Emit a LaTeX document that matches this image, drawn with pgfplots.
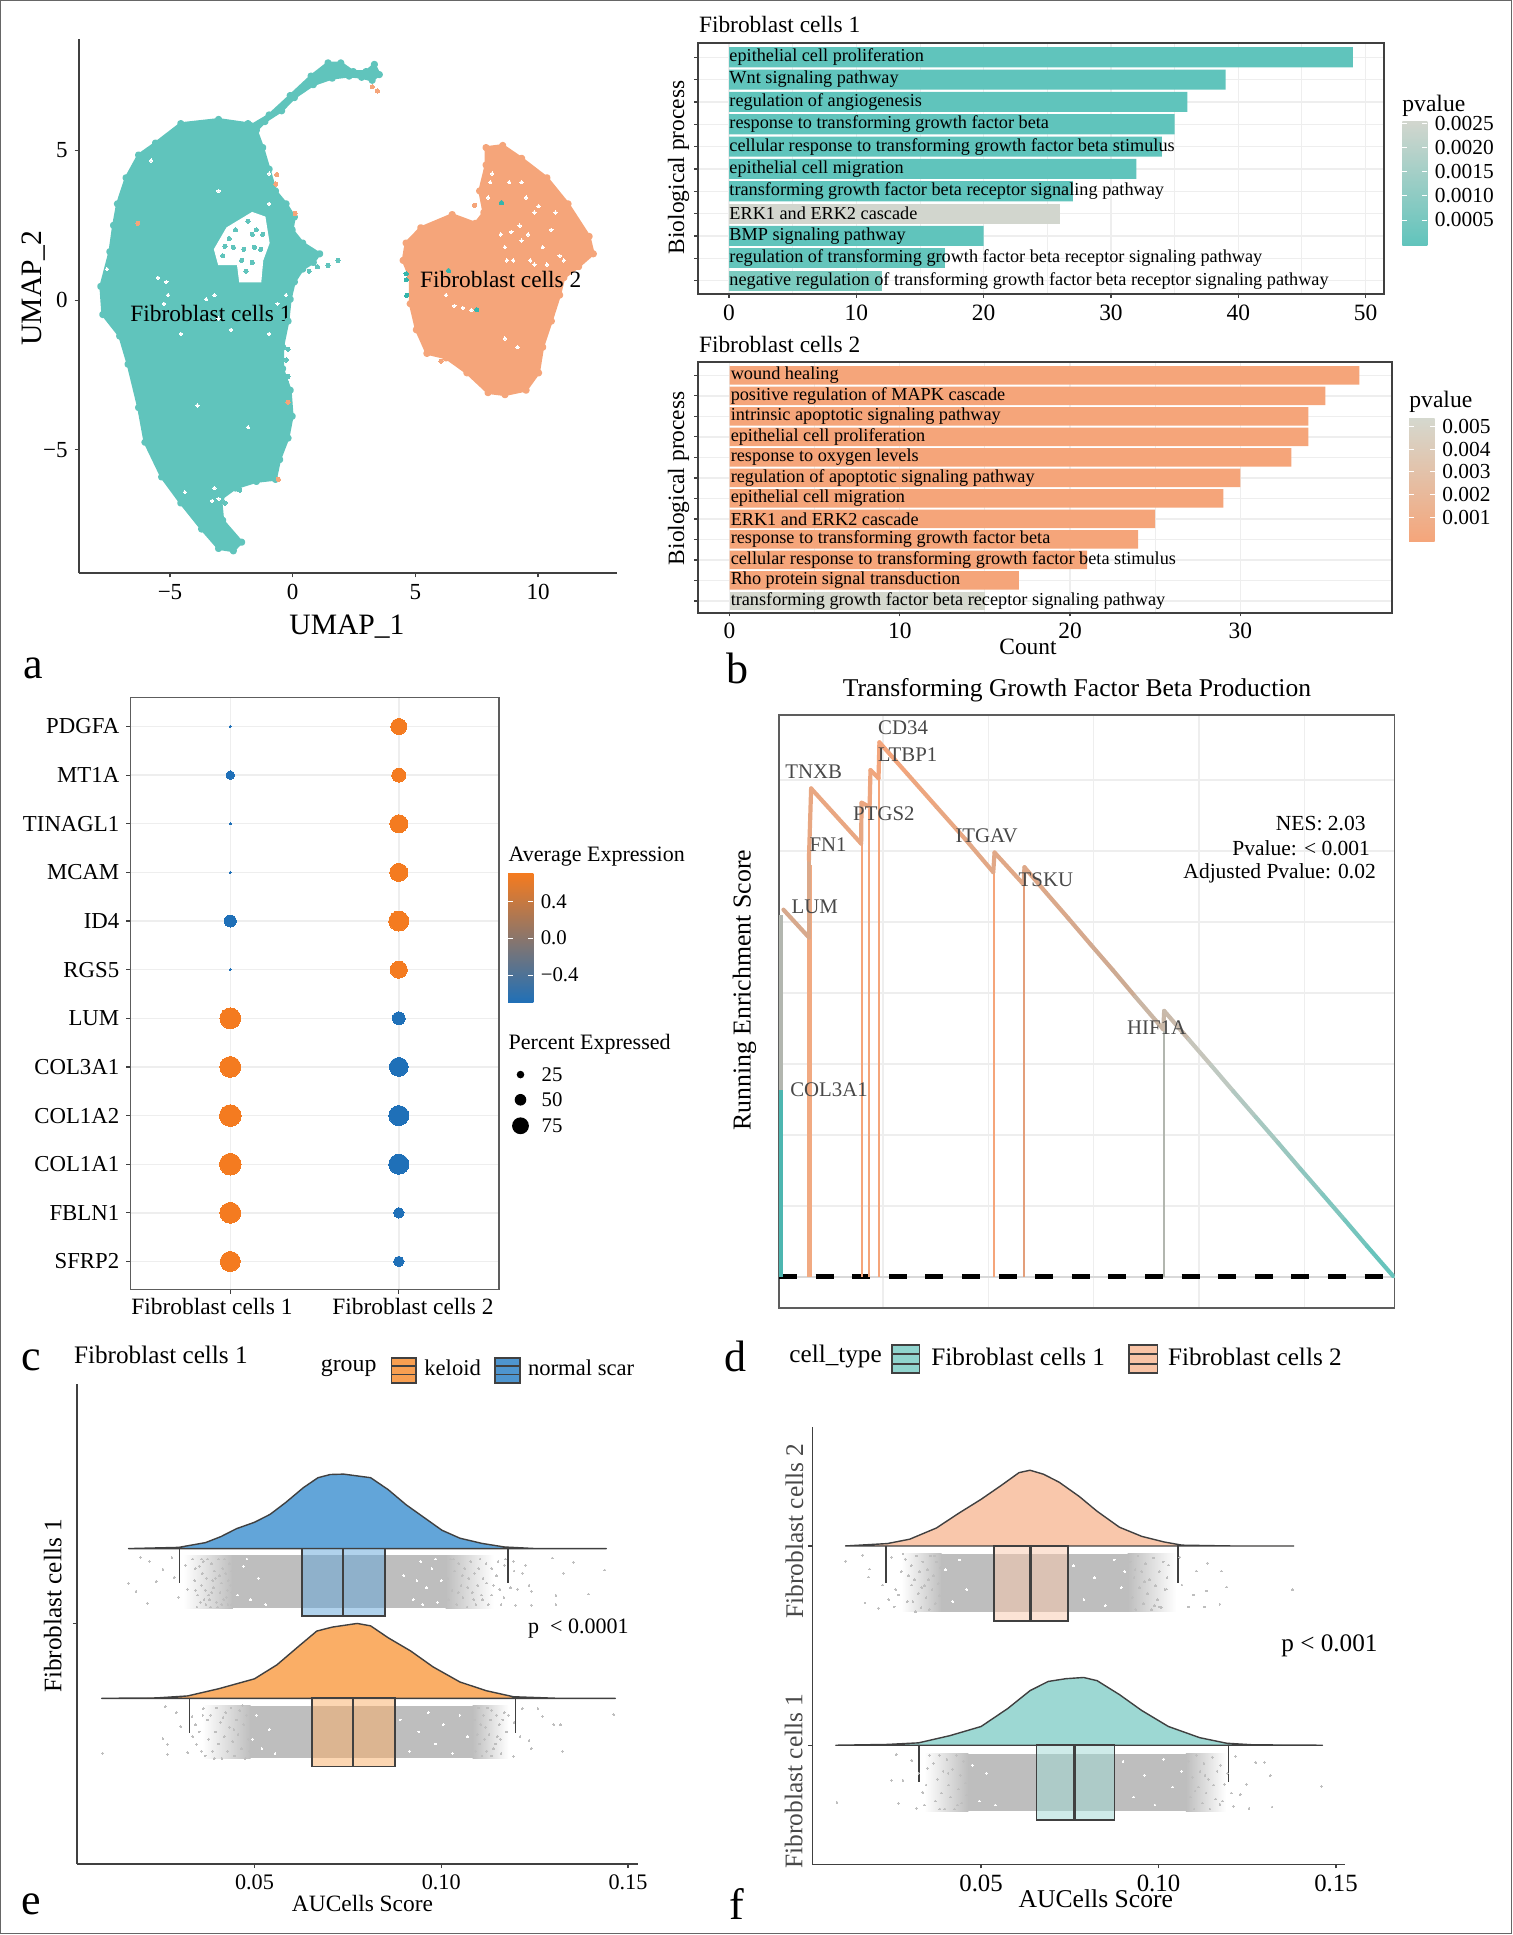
\documentclass[border=0pt]{standalone}
\usepackage{fontspec}
\setmainfont{Liberation Serif}
\usepackage{pgfplots}
\pgfplotsset{compat=1.18}

\definecolor{ct}{HTML}{60C4BC}
\definecolor{co}{HTML}{F5A57A}
\definecolor{ctg}{HTML}{D2D6CE}
\definecolor{ctm}{HTML}{7CCBBF}
\definecolor{cog}{HTML}{D5D8CE}
\definecolor{dkor}{HTML}{F47B20}
\definecolor{dkbl}{HTML}{1F70B8}
\definecolor{frame}{HTML}{404040}
\definecolor{gridc}{HTML}{EEEEEE}
\definecolor{dotg}{HTML}{BEBEBE}
\definecolor{dblue}{HTML}{62A5D9}
\definecolor{dorange}{HTML}{FAAE66}
\definecolor{dpeach}{HTML}{F9C7AB}
\definecolor{dteal}{HTML}{9DD8D3}
\definecolor{labg}{HTML}{484848}
\definecolor{tealdot}{HTML}{35B5AC}

% one reference pixel is 0.5pt
\newcommand{\fs}[1]{\fontsize{#1}{#1}\selectfont}
\newcommand{\lab}[6][]{\node[inner sep=0pt,anchor=#2,font=\fs{#5},#1] at ({#3*0.5pt},{(1935-#4)*0.5pt}) {#6};}
\newcommand{\cbar}[7]{% x0 x1 ytop ybottom colours
  \shade[bottom color=#5,middle color=#6,top color=#7] ({#1*0.5pt},{(1935-#4)*0.5pt}) rectangle ({#2*0.5pt},{(1935-#3)*0.5pt});}
\newcommand{\cbtick}[3]{% x0 x1 y
  \draw[white,line width=0.3pt] ({#1*0.5pt},{(1935-#3)*0.5pt}) -- ++(2.5pt,0);
  \draw[white,line width=0.3pt] ({#2*0.5pt},{(1935-#3)*0.5pt}) -- ++(-2.5pt,0);}
\newcommand{\keybox}[5]{% x0 x1 ytop ybottom fill
  \draw[frame,fill=#5,line width=0.9pt] ({#1*0.5pt},{(1935-#4)*0.5pt}) rectangle ({#2*0.5pt},{(1935-#3)*0.5pt});
  \draw[frame,line width=0.8pt] ({#1*0.5pt},{(1935-(#3*0.67+#4*0.33))*0.5pt}) -- ({#2*0.5pt},{(1935-(#3*0.67+#4*0.33))*0.5pt});
  \draw[frame,line width=0.8pt] ({#1*0.5pt},{(1935-(#3*0.33+#4*0.67))*0.5pt}) -- ({#2*0.5pt},{(1935-(#3*0.33+#4*0.67))*0.5pt});}

\pgfplotsset{
  /pgf/number format/assume math mode=true,
  panel/.style={scale only axis, anchor=south west},
  barpanel/.style={panel, axis line style={frame,line width=1pt}, tick style={frame,line width=0.6pt},
    major tick length=1.8pt, minor tick length=0pt, tick align=outside, tick pos=left, ytick distance=1,
    yticklabels={}, grid=both, minor x tick num=1,
    major grid style={gridc,line width=0.7pt}, minor grid style={gridc,line width=0.5pt},
    tick label style={font=\fs{11.7}}, clip=false},
  rainpanel/.style={panel, axis lines=left, axis line style={-,frame,line width=0.8pt},
    tick style={frame,line width=0.6pt}, major tick length=2pt, tick align=outside,
    xtick={0.05,0.10,0.15}, xticklabels={0.05,0.10,0.15}, yticklabels={}, clip=false},
  barfill/.style={xbar, bar shift=0pt, bar width=0.9, draw=none, fill=#1},
  jit/.style={dotg, only marks, mark=*, mark size=0.45pt, mark options={dotg,fill=dotg,line width=0pt}},
  spk/.style={white, only marks, mark=*, mark size=0.45pt, mark options={white,fill=white,line width=0pt}},
  pts/.style={#1, only marks, mark=*, mark size=1.05pt, mark options={#1,fill=#1,line width=0pt}},
  wsp/.style={white, only marks, mark=*, mark size=0.85pt, mark options={white,fill=white,line width=0pt}},
  area/.style={draw=none, fill=#1},
  fadeL/.style={draw=none, left color=white, right color=dotg},
  fadeR/.style={draw=none, left color=dotg, right color=white},
  dens/.style={draw=frame, line width=0.7pt, line join=round, fill=#1},
  bxx/.style={draw=frame, line width=0.9pt, fill=#1, fill opacity=0.5},
  seg/.style={frame, line width=0.7pt},
  med/.style={frame, line width=1.4pt},
}

\begin{document}
\begin{tikzpicture}
\useasboundingbox (0,0) rectangle (756pt,967.5pt);
\draw[frame!80,line width=0.5pt] (0.25pt,0.6pt) rectangle (755.75pt,967.25pt);

% ---- a: UMAP
\begin{axis}[panel, at={(39.35pt,680.85pt)}, width=268.95pt, height=267.15pt,
  xmin=-8.72, xmax=13.2, ymin=-9.13, ymax=8.73,
  axis lines=left, axis line style={-,frame,line width=0.9pt}, tick style={frame,line width=0.6pt},
  major tick length=2pt, tick align=outside,
  xtick={-5,0,5,10}, xticklabels={−5,0,5,10}, ytick={-5,0,5}, yticklabels={−5,0,5},
  tick label style={font=\fs{11.5}}]
\addplot[draw=ct, fill=ct, line width=1.4pt, line join=round, mark=*, mark size=1.1pt, mark options={fill=ct,draw=ct}] coordinates {
(-1.70,5.83) (-.96,6.19) (-.10,6.84) (.75,7.49) (1.44,7.93) (1.96,7.93) (2.47,7.64) (2.99,7.64) (3.33,7.88) (3.53,7.54)
(3.24,7.35) (2.81,7.45) (2.30,7.49) (1.61,7.42) (.84,7.20) (.07,6.77) (-.45,6.33) (-1.13,5.97) (-1.48,5.68) (-1.22,5.10)
(-.96,4.38) (-.70,3.65) (-.27,3.22) (.07,2.78) (-.02,2.35) (.41,1.91) (1.10,1.55) (.84,1.26) (.41,1.04) (.07,.61)
(-.10,.03) (-.19,-.70) (-.41,-1.57) (-.41,-2.29) (-.10,-3.01) (-.02,-3.88) (-.19,-4.61) (-.53,-5.33) (-.70,-5.99) (-1.48,-6.06)
(-2.33,-6.28) (-2.93,-6.64) (-2.85,-7.36) (-2.08,-8.09) (-2.42,-8.38) (-3.02,-8.30) (-3.71,-7.65) (-4.56,-6.78) (-5.34,-5.91) (-6.02,-4.75)
(-6.28,-3.59) (-6.71,-2.14) (-7.05,-1.20) (-7.74,-.48) (-7.82,.46) (-7.45,1.62) (-7.30,2.50) (-7.14,3.22) (-6.79,4.09) (-6.28,4.85) (-5.59,5.25) (-4.56,5.90)
(-3.02,6.04) (-1.82,5.90)} --cycle;
\addplot[draw=co, fill=co, line width=1.4pt, line join=round, mark=*, mark size=1.1pt, mark options={fill=co,draw=co}] coordinates {
(7.88,5.10) (8.56,5.17) (9.33,4.74) (10.36,4.09) (11.22,3.22) (12.08,2.13) (12.25,1.55) (11.65,1.12) (11.05,.75) (10.88,.17)
(10.54,-.70) (10.19,-1.57) (10.02,-2.43) (9.51,-3.01) (8.65,-3.16) (7.96,-3.09) (7.10,-2.43) (6.25,-1.93) (5.47,-1.78) (5.04,-.99)
(4.79,-.12) (4.79,.75) (4.50,1.33) (4.62,1.91) (5.22,2.42) (6.50,2.86) (7.45,2.57) (7.79,2.93) (7.62,3.65) (7.88,4.52)} --cycle;
% the gap in cluster 1 and the white specks
\addplot[draw=white, fill=white, line width=0.5pt] coordinates {
(-3.19,1.70) (-2.68,2.42) (-1.65,2.93) (-1.13,2.78) (-.96,1.91) (-1.22,1.33) (-1.30,.61) (-2.16,.61) (-2.25,1.19) (-3.02,1.19)} --cycle;
\addplot[wsp] coordinates {
(-5.08,.17) (-5.15,.61) (-5.49,.75) (-3.53,.03) (-3.19,.17) (-3.02,3.65) (-2.51,-.99) (-4.56,-1.13) (-.62,-.12) (-.96,-1.13)
(-.27,.17) (-1.82,-4.25) (-3.88,-3.52) (-3.19,-6.28) (-3.02,-6.64) (-3.28,-6.71) (-4.39,-6.42) (-7.57,1.04) (-5.25,-.12) (-3.02,-.62)
(-.96,3.22) (-.96,4.23) (-5.77,4.67)
(9.33,1.99) (8.91,2.28) (9.68,1.33) (8.65,1.77) (10.19,1.77) (10.88,1.48) (10.54,2.35) (9.85,2.93) (9.51,3.43) (8.13,4.23)
(8.05,3.94) (8.82,3.94) (9.33,3.94) (10.02,3.14) (8.99,1.33) (6.59,-.19) (6.93,-.26) (7.28,-.33) (6.25,.17) (9.16,-1.57)
(8.65,-1.28) (9.85,1.19) (10.36,1.19) (7.96,3.43) (10.71,2.93) (8.48,2.20) (9.59,2.20) (9.25,2.49) (8.73,1.33) (11.05,1.33)};
\addplot[pts=ct] coordinates {
(-2.76,1.80) (-2.42,1.77) (-1.99,1.70) (-1.65,2.20) (-2.33,2.35) (-1.82,2.64) (-1.48,2.35) (-1.30,1.70) (-2.08,1.33) (-1.65,1.26)
(-2.85,1.48) (-1.56,1.77) (-1.90,.97) (-2.59,2.06) (-1.22,2.20)
(1.85,1.33) (1.44,1.16) (1.01,1.12) (.67,.97) (-.27,-2.0) (-.19,-2.55) (-.27,-2.72) (-.19,-1.64) (-2.16,-6.35) (-2.76,-6.78)};
\addplot[pts=co] coordinates {
(-.65,4.20) (-.69,3.88) (.10,2.90) (-.19,-3.41) (-.58,-5.99) (3.24,7.13) (3.45,6.99) (-6.31,2.57) (7.41,3.17) (6.04,-2.04) (4.79,.87)};
\addplot[pts=tealdot] coordinates {
(8.51,3.26) (6.35,.99) (7.50,-.32) (4.62,.88) (4.63,.68) (4.65,.16)};
\node[font=\fs{11.7}] at (axis cs:-3.33,-.46) {Fibroblast cells 1};
\node[font=\fs{11.7}] at (axis cs:8.48,.68) {Fibroblast cells 2};
\end{axis}
\lab{center}{347}{626.6}{14.8}{UMAP\_1}
\lab[rotate=90]{center}{33.7}{288}{14.8}{UMAP\_2}
\lab{center}{33}{668}{22}{a}

% ---- b top
\begin{axis}[barpanel, at={(349pt,820.5pt)}, width=343pt, height=125.3pt,
  xmin=-2.44, xmax=51.45, ymin=0.4, ymax=11.62, xtick={0,10,20,30,40,50}]
\addplot[barfill=ct] coordinates {(49,11) (39,10) (36,9) (35,8) (34,7) (32,6) (27,5) (20,3)};
\addplot[barfill=ctg] coordinates {(26,4)};
\addplot[barfill=ct!85!ctm] coordinates {(17,2)};
\addplot[barfill=ctm] coordinates {(12,1)};
\begin{scope}[every node/.style={anchor=west,inner sep=0pt,font=\fs{9.12}}]
\node at (axis cs:0,11) {epithelial cell proliferation};
\node at (axis cs:0,10) {Wnt signaling pathway};
\node at (axis cs:0,9) {regulation of angiogenesis};
\node at (axis cs:0,8) {response to transforming growth factor beta};
\node at (axis cs:0,7) {cellular response to transforming growth factor beta stimulus};
\node at (axis cs:0,6) {epithelial cell migration};
\node at (axis cs:0,5) {transforming growth factor beta receptor signaling pathway};
\node at (axis cs:0,4) {ERK1 and ERK2 cascade};
\node at (axis cs:0,3) {BMP signaling pathway};
\node at (axis cs:0,2) {regulation of transforming growth factor beta receptor signaling pathway};
\node at (axis cs:0,1) {negative regulation of transforming growth factor beta receptor signaling pathway};
\end{scope}
\end{axis}
\lab{west}{698.6}{25}{11.7}{Fibroblast cells 1}
\lab[rotate=90]{center}{678.5}{167.4}{11.7}{Biological process}
\lab{west}{1402}{105.4}{11.8}{pvalue}
\cbar{1402.4}{1427.4}{121.4}{245.9}{ct}{ct!50!ctg}{ctg}
\cbtick{1402.4}{1427.4}{123.6}\cbtick{1402.4}{1427.4}{147.4}\cbtick{1402.4}{1427.4}{171.7}\cbtick{1402.4}{1427.4}{195.6}\cbtick{1402.4}{1427.4}{219.9}
\lab{west}{1434.5}{123.6}{10.7}{0.0025}
\lab{west}{1434.5}{147.4}{10.7}{0.0020}
\lab{west}{1434.5}{171.7}{10.7}{0.0015}
\lab{west}{1434.5}{195.6}{10.7}{0.0010}
\lab{west}{1434.5}{219.9}{10.7}{0.0005}

% ---- b bottom
\begin{axis}[barpanel, at={(349pt,661.15pt)}, width=346.75pt, height=125.35pt,
  xmin=-1.85, xmax=38.88, ymin=0.43, ymax=12.65, xtick={0,10,20,30}]
\addplot[barfill=co] coordinates {(37,12) (35,11) (34,10) (34,9) (33,8) (30,7) (29,6) (25,5) (24,4) (21,3) (17,2)};
\addplot[barfill=cog] coordinates {(15,1)};
\begin{scope}[every node/.style={anchor=west,inner sep=0pt,font=\fs{9.12}}]
\node at (axis cs:0.05,12) {wound healing};
\node at (axis cs:0.05,11) {positive regulation of MAPK cascade};
\node at (axis cs:0.05,10) {intrinsic apoptotic signaling pathway};
\node at (axis cs:0.05,9) {epithelial cell proliferation};
\node at (axis cs:0.05,8) {response to oxygen levels};
\node at (axis cs:0.05,7) {regulation of apoptotic signaling pathway};
\node at (axis cs:0.05,6) {epithelial cell migration};
\node at (axis cs:0.05,5) {ERK1 and ERK2 cascade};
\node at (axis cs:0.05,4) {response to transforming growth factor beta};
\node at (axis cs:0.05,3) {cellular response to transforming growth factor beta stimulus};
\node at (axis cs:0.05,2) {Rho protein signal transduction};
\node at (axis cs:0.05,1) {transforming growth factor beta receptor signaling pathway};
\end{scope}
\end{axis}
\lab{west}{698.6}{344.8}{11.7}{Fibroblast cells 2}
\lab[rotate=90]{center}{678.5}{478.3}{11.7}{Biological process}
\lab{center}{1028}{647}{11.7}{Count}
\lab{center}{737}{668}{22}{b}
\lab{west}{1409}{402}{11.8}{pvalue}
\cbar{1409}{1434.5}{418.5}{542}{co}{co!50!cog}{cog}
\cbtick{1409}{1434.5}{426.3}\cbtick{1409}{1434.5}{449.3}\cbtick{1409}{1434.5}{471.8}\cbtick{1409}{1434.5}{494.8}\cbtick{1409}{1434.5}{517.8}
\lab{west}{1442}{426.3}{10.7}{0.005}
\lab{west}{1442}{449.3}{10.7}{0.004}
\lab{west}{1442}{471.8}{10.7}{0.003}
\lab{west}{1442}{494.8}{10.7}{0.002}
\lab{west}{1442}{517.8}{10.7}{0.001}

% ---- c: dot plot
\begin{axis}[panel, at={(65.15pt,322.65pt)}, width=184.25pt, height=295.95pt,
  xmin=0.4065, xmax=2.5935, ymin=0.42, ymax=12.59,
  axis line style={frame!85,line width=0.7pt}, tick style={frame,line width=0.6pt},
  major tick length=2pt, tick align=outside, tick pos=left,
  xtick={1,2}, xticklabels={}, ytick={1,...,12},
  yticklabels={SFRP2,FBLN1,COL1A1,COL1A2,COL3A1,LUM,RGS5,ID4,MCAM,TINAGL1,MT1A,PDGFA},
  tick label style={font=\fs{11.4}}, grid=major, major grid style={gridc,line width=0.7pt}]
\addplot[scatter, only marks, mark=*, scatter/use mapped color={draw=dkor,fill=dkor},
  mark options={line width=0pt},
  visualization depends on={\thisrow{r} \as \rad},
  scatter/@pre marker code/.append style={/tikz/mark size=\rad}] table {
x y r
1 6 5.2
1 5 5.2
1 4 5.4
1 3 5.4
1 2 5.2
1 1 5.0
2 12 4.0
2 11 3.5
2 10 4.5
2 9 4.5
2 8 5.0
2 7 4.25
};
\addplot[scatter, only marks, mark=*, scatter/use mapped color={draw=dkbl,fill=dkbl},
  mark options={line width=0pt},
  visualization depends on={\thisrow{r} \as \rad},
  scatter/@pre marker code/.append style={/tikz/mark size=\rad}] table {
x y r
1 12 0.6
1 11 2.1
1 10 0.5
1 9 0.5
1 8 3.0
1 7 0.5
2 6 3.2
2 5 4.7
2 4 5.0
2 3 5.0
2 2 2.6
2 1 2.6
};
\end{axis}
\lab{center}{212}{1306.6}{11.7}{Fibroblast cells 1}
\lab{center}{413}{1306.6}{11.7}{Fibroblast cells 2}
\lab{west}{508.3}{856.5}{11}{Average Expression}
\cbar{508.2}{533.3}{873.8}{1003}{dkbl}{dkor!50!dkbl}{dkor}
\cbtick{508.2}{533.3}{901.6}\cbtick{508.2}{533.3}{938}\cbtick{508.2}{533.3}{974.9}
\lab{west}{540.4}{901.6}{10.4}{0.4}
\lab{west}{540.4}{938}{10.4}{0.0}
\lab{west}{540.4}{974.9}{10.4}{−0.4}
\lab{west}{508.3}{1043.8}{11}{Percent Expressed}
\fill[black] ({520.5*0.5pt},{(1935-1074.6)*0.5pt}) circle (1.9pt);
\fill[black] ({520.5*0.5pt},{(1935-1099.8)*0.5pt}) circle (2.9pt);
\fill[black] ({520.5*0.5pt},{(1935-1125.8)*0.5pt}) circle (4.2pt);
\lab{west}{541.3}{1074.6}{10.4}{25}
\lab{west}{541.3}{1099.8}{10.4}{50}
\lab{west}{541.3}{1125.8}{10.4}{75}
\lab{center}{31}{1360}{22}{c}

% ---- d: enrichment
\pgfplotsset{colormap={es}{color(0)=(ct) color(0.4)=(ctg!70!black!20!ctg) color(0.55)=(ctg!50!co!90!black) color(1)=(co)}}
\begin{axis}[panel, at={(389.5pt,313.5pt)}, width=307.75pt, height=296.55pt,
  xmin=64, xmax=29280, ymin=-0.0437, ymax=0.792, scaled x ticks=false, scaled y ticks=false,
  axis line style={frame!85,line width=0.8pt}, major tick length=0pt,
  xtick={5000,10000,15000,20000,25000}, ytick={0,0.1,...,0.7}, xticklabels={}, yticklabels={},
  grid=major, major grid style={gridc,line width=0.7pt}, point meta min=0, point meta max=0.75]
\addplot[draw=frame!20, line width=1pt] coordinates {(64,0) (29280,0)};
\addplot[black, line width=2.5pt, dash pattern=on 9pt off 9.3pt] coordinates {(64,0) (29280,0)};
% drop lines from the base to each gene hit
\addplot[ct!80!teal, line width=2.2pt] coordinates {(127,0) (127,0.263)};
\addplot[ctg!85!black, line width=2.2pt] coordinates {(127,0.263) (127,0.51)};
\addplot[co!90!ctg, line width=2.2pt] coordinates {(1504,0) (1504,0.58)};
\addplot[co, line width=1pt] coordinates {(3983,0) (3983,0.66)};
\addplot[co, line width=1pt] coordinates {(4343,0) (4343,0.66)};
\addplot[co, line width=1pt] coordinates {(4830,0) (4830,0.75)};
\addplot[co, line width=1pt] coordinates {(10254,0) (10254,0.57)};
\addplot[co!85!gray, line width=1pt] coordinates {(11716,0) (11716,0.57)};
\addplot[ctg!85!black, line width=1pt] coordinates {(18347,0) (18347,0.37)};
% running score
\addplot[mesh, line width=2.1pt, line cap=round, point meta=y] coordinates {
(275,.5175) (1483,.4784) (1483,.5877) (1589,.6883) (3962,.6107) (3983,.6682) (4364,.6625) (4407,.7142) (4788,.7027) (4830,.7533)
(6165,.7085) (7542,.6624) (8919,.6164) (10233,.5704) (10296,.5980) (11673,.5532) (11716,.5773) (12733,.5417) (13792,.5055) (14851,.4687)
(15911,.4324) (16970,.3951) (18305,.3490) (18347,.3749) (19512,.3347) (20571,.2984) (21631,.2616) (22690,.2254) (23749,.1892) (24809,.1524)
(25868,.1162) (26927,.0799) (27987,.0431) (29216,.0012)};
\begin{scope}[every node/.style={text=labg,inner sep=0pt,font=\fs{10.4}}]
\node at (axis cs:5953,.7746) {CD34};
\node at (axis cs:6165,.7355) {LTBP1};
\node at (axis cs:1716,.7113) {TNXB};
\node at (axis cs:5042,.6527) {PTGS2};
\node at (axis cs:2394,.6090) {FN1};
\node at (axis cs:9915,.6216) {ITGAV};
\node at (axis cs:12733,.5601) {TSKU};
\node at (axis cs:1758,.5216) {LUM};
\node at (axis cs:2436,.2645) {COL3A1};
\node at (axis cs:17987,.3513) {HIF1A};
\end{scope}
\begin{scope}[every node/.style={anchor=east,inner sep=0pt,font=\fs{10.75}}]
\node at (axis cs:27923,.6389) {NES: 2.03};
\node at (axis cs:28135,.6044) {Pvalue: < 0.001};
\node at (axis cs:28410,.5693) {Adjusted Pvalue: 0.02};
\end{scope}
\end{axis}
\lab{center}{1077}{690.4}{12.8}{Transforming Growth Factor Beta Production}
\lab[rotate=90]{center}{744.5}{990.4}{12.9}{Running Enrichment Score}
\lab{center}{735}{1356}{22}{d}

% ---- e: raincloud by group
\begin{axis}[rainpanel, at={(38.4pt,35.5pt)}, width=280.8pt, height=240.15pt,
  xmin=0.00244, xmax=0.15278, ymin=0, ymax=2, ytick={1}, tick label style={font=\fs{11.1}}]
% normal scar
\addplot[fadeL] coordinates {(.0310,1.065) (.0442,1.065) (.0442,1.285) (.0310,1.285)} --cycle;
\addplot[fadeR] coordinates {(.1012,1.065) (.1140,1.065) (.1140,1.285) (.1012,1.285)} --cycle;
\addplot[area=dotg] coordinates {(.0440,1.065) (.1014,1.065) (.1014,1.285) (.0440,1.285)} --cycle;
\addplot[jit] coordinates {
(.0163,1.169) (.0195,1.277) (.0183,1.136) (.0219,1.260) (.0237,1.177) (.0213,1.086) (.0255,1.227) (.0279,1.277) (.0285,1.194) (.0297,1.111)
(.0321,1.144) (.0315,1.244) (.1297,1.274) (.1354,1.257) (.1327,1.211) (.1438,1.224) (.1394,1.124) (.1307,1.119) (.1307,1.081) (.1241,1.078)
(.1199,1.078) (.1193,1.260) (.1226,1.244) (.1235,1.161) (.1217,1.211) (.1205,1.144) (.1241,1.136) (.1169,1.244) (.1157,1.144)
(.0335,1.27) (.0348,1.12) (.036,1.21) (.037,1.08) (.0385,1.25) (.039,1.15) (.0402,1.07) (.0415,1.23) (.0425,1.11) (.043,1.18)
(.034,1.18) (.0355,1.09) (.0375,1.27) (.0395,1.19) (.0408,1.13) (.0352,1.24) (.0368,1.14) (.042,1.27) (.0438,1.08) (.038,1.10)
(.1120,1.25) (.1135,1.12) (.1148,1.20) (.116,1.08) (.1172,1.27) (.1185,1.15) (.1195,1.22) (.111,1.10) (.1122,1.17) (.1135,1.23)
(.0342,1.23) (.0346,1.07) (.0358,1.16) (.0363,1.26) (.0372,1.19) (.0378,1.12) (.0383,1.07) (.0392,1.22) (.0398,1.09) (.0404,1.27)
(.0411,1.17) (.0418,1.10) (.0423,1.21) (.0427,1.14) (.0433,1.25) (.0436,1.16) (.0438,1.22) (.0343,1.14) (.0365,1.10) (.0388,1.18)
(.0412,1.08) (.0429,1.08) (.0439,1.13) (.0406,1.20) (.0386,1.13) (.0359,1.27)
(.1018,1.19) (.1024,1.27) (.1029,1.14) (.1036,1.22) (.1041,1.08) (.1047,1.25) (.1053,1.16) (.1058,1.11) (.1063,1.23) (.1069,1.07)
(.1074,1.19) (.1079,1.26) (.1083,1.13) (.1089,1.21) (.1093,1.08) (.1098,1.16) (.1104,1.27) (.1107,1.12) (.1020,1.10) (.1033,1.27)
(.1046,1.13) (.1056,1.20) (.1071,1.15) (.1087,1.10) (.1100,1.23) (.1112,1.19) (.1126,1.08) (.1140,1.16) (.1152,1.26) (.1168,1.11)};
\addplot[spk] coordinates {(.0900,1.20) (.0925,1.10) (.0945,1.26) (.0960,1.15) (.0975,1.23) (.0990,1.09) (.1000,1.18) (.0985,1.27)
(.0950,1.08) (.0935,1.18) (.0470,1.24) (.0490,1.10) (.0510,1.19) (.0455,1.12) (.0480,1.27) (.0530,1.08)};
\addplot[dens=dblue] coordinates {
(.0163,1.3134) (.0297,1.3184) (.0369,1.3383) (.0410,1.3632) (.0452,1.3964) (.05,1.4229) (.0542,1.4561) (.0584,1.5058) (.0631,1.5672) (.0670,1.6086)
(.0703,1.6219) (.0739,1.6235) (.0811,1.6086) (.0858,1.5589) (.0906,1.4959) (.0954,1.4428) (.1002,1.3897) (.1050,1.3566) (.1109,1.3350) (.1169,1.3201)
(.1253,1.3134) (.1442,1.3134)} --cycle;
\addplot[bxx=dblue] coordinates {(.0628,1.0315) (.0849,1.0315) (.0849,1.3134) (.0628,1.3134)} --cycle;
\addplot[med] coordinates {(.0737,1.0315) (.0737,1.3134)};
\addplot[seg] coordinates {(.0299,1.3134) (.0299,1.169)};
\addplot[seg] coordinates {(.1179,1.3134) (.1179,1.169)};
% keloid
\addplot[fadeL] coordinates {(.0360,.44) (.0490,.44) (.0490,.66) (.0360,.66)} --cycle;
\addplot[fadeR] coordinates {(.1084,.44) (.1180,.44) (.1180,.66) (.1084,.66)} --cycle;
\addplot[area=dotg] coordinates {(.0488,.44) (.1086,.44) (.1086,.66) (.0488,.66)} --cycle;
\addplot[jit] coordinates {
(.0094,.461) (.0267,.456) (.0255,.522) (.0267,.498) (.0261,.655) (.0303,.572) (.0291,.630) (.0321,.464) (.0345,.498) (.0333,.614)
(.0363,.647) (.1462,.622) (.1325,.469) (.1319,.580) (.1301,.580) (.1259,.647) (.1271,.614) (.1241,.481) (.1235,.514) (.1211,.531)
(.1193,.448) (.1217,.647) (.1169,.630)
(.0352,.55) (.0368,.45) (.0374,.60) (.0358,.47) (.0342,.58) (.0378,.52) (.0335,.53) (.0362,.62)
(.1135,.64) (.1145,.50) (.1155,.58) (.1160,.46) (.1175,.55) (.1180,.62) (.1135,.45) (.1150,.53) (.1195,.59)
(.0383,.62) (.0388,.47) (.0395,.55) (.0399,.65) (.0404,.50) (.0409,.59) (.0413,.44) (.0419,.53) (.0423,.63) (.0428,.47)
(.0433,.57) (.0437,.65) (.0442,.51) (.0447,.45) (.0452,.60) (.0456,.54) (.0461,.64) (.0465,.48) (.0471,.58) (.0475,.44)
(.0479,.62) (.0483,.52) (.0486,.47) (.0392,.44) (.0416,.61) (.0445,.56) (.0468,.66)
(.1089,.60) (.1092,.47) (.1096,.54) (.1099,.65) (.1103,.50) (.1106,.58) (.1109,.45) (.1113,.62) (.1116,.52) (.1119,.57)
(.1122,.47) (.1124,.65) (.1128,.54) (.1132,.60) (.1140,.48) (.1148,.62) (.1158,.52) (.1165,.60)};
\addplot[spk] coordinates {(.0505,.62) (.0520,.48) (.0540,.56) (.0555,.46) (.0495,.52) (.0890,.60) (.0915,.47) (.0940,.55)
(.0965,.63) (.0985,.50) (.1005,.58) (.1030,.46) (.1050,.62) (.1070,.53)};
\addplot[dens=dorange] coordinates {
(.0091,.6899) (.0237,.6915) (.0321,.6998) (.0404,.7297) (.05,.7711) (.0560,.8292) (.0620,.9088) (.0667,.9701) (.0709,.9867) (.0775,1.0017)
(.0811,.9917) (.0858,.9420) (.0918,.8872) (.0978,.8209) (.1050,.7579) (.1121,.7214) (.1193,.6965) (.1313,.6899) (.1466,.6899)} --cycle;
\addplot[bxx=dorange] coordinates {(.0655,.4063) (.0876,.4063) (.0876,.6899) (.0655,.6899)} --cycle;
\addplot[med] coordinates {(.0764,.4063) (.0764,.6899)};
\addplot[seg] coordinates {(.0326,.6899) (.0326,.5473)};
\addplot[seg] coordinates {(.1199,.6899) (.1199,.5473)};
\end{axis}
\lab{west}{73.7}{1354.6}{12.6}{Fibroblast cells 1}
\lab{west}{320.5}{1367.8}{11.9}{group}
\keybox{391.5}{416}{1357.8}{1383}{dorange!70!dkor}
\lab{west}{424}{1367.8}{11.3}{keloid}
\keybox{494.6}{519.6}{1357.8}{1383}{dblue!70!dkbl}
\lab{west}{527.7}{1367.8}{11.3}{normal scar}
\lab{west}{527.7}{1628.9}{11}{p\ \ < 0.0001}
\lab{center}{362.5}{1903.9}{11.7}{AUCells Score}
\lab[rotate=90]{center}{52.7}{1606}{12.6}{Fibroblast cells 1}
\lab{center}{31}{1904}{22}{e}

% ---- f: raincloud by cell type
\begin{axis}[rainpanel, at={(406.15pt,35.3pt)}, width=266.3pt, height=218.8pt,
  xmin=0.00245, xmax=0.15252, ymin=0.402, ymax=2.598, ytick={1,2}, tick label style={font=\fs{12.4}}]
% Fibroblast cells 2
\addplot[fadeL] coordinates {(.0275,1.67) (.0389,1.67) (.0389,1.96) (.0275,1.96)} --cycle;
\addplot[fadeR] coordinates {(.0913,1.67) (.1050,1.67) (.1050,1.96) (.0913,1.96)} --cycle;
\addplot[area=dotg] coordinates {(.0387,1.67) (.0915,1.67) (.0915,1.96) (.0387,1.96)} --cycle;
\addplot[jit] coordinates {
(.0119,1.924) (.0167,1.954) (.0186,1.884) (.0183,1.844) (.0223,1.804) (.0173,1.714) (.0211,1.688) (.0255,1.694) (.0267,1.754) (.0248,1.944)
(.0286,1.934) (.0305,1.804) (.1377,1.78) (.1177,1.874) (.1138,1.914) (.1106,1.874) (.1192,1.794) (.1173,1.708) (.1135,1.774) (.1129,1.694)
(.1098,1.754) (.1085,1.694) (.1060,1.944) (.1066,1.804) (.1028,1.904) (.1022,1.784) (.1003,1.694)
(.0275,1.87) (.0260,1.78) (.0292,1.72) (.0240,1.73) (.0280,1.96) (.0295,1.85)
(.0303,1.90) (.0308,1.72) (.0312,1.83) (.0318,1.95) (.0323,1.76) (.0327,1.87) (.0331,1.69) (.0336,1.92) (.0341,1.80) (.0345,1.74)
(.0349,1.88) (.0354,1.68) (.0358,1.95) (.0362,1.78) (.0366,1.85) (.0371,1.71) (.0375,1.92) (.0379,1.81) (.0383,1.75) (.0385,1.89)
(.0315,1.67) (.0333,1.79) (.0352,1.83) (.0368,1.95)
(.0920,1.92) (.0926,1.74) (.0931,1.84) (.0936,1.68) (.0942,1.95) (.0947,1.79) (.0953,1.87) (.0958,1.71) (.0964,1.91) (.0969,1.76)
(.0975,1.83) (.0980,1.68) (.0986,1.94) (.0991,1.80) (.0997,1.73) (.1002,1.87) (.1008,1.69) (.1013,1.92) (.1018,1.78) (.1024,1.84)
(.0934,1.88) (.0961,1.82) (.0989,1.70)};
\addplot[spk] coordinates {(.0400,1.88) (.0420,1.72) (.0440,1.93) (.0460,1.78) (.0760,1.90) (.0790,1.73) (.0820,1.84) (.0850,1.70)
(.0875,1.93) (.0895,1.79) (.0905,1.87)};
\addplot[dens=dpeach] coordinates {
(.0118,2) (.0236,2.012) (.0299,2.034) (.0374,2.09) (.0437,2.164) (.05,2.234) (.0557,2.304) (.0607,2.368) (.0638,2.38) (.0676,2.36)
(.0720,2.32) (.0777,2.248) (.0827,2.174) (.0890,2.094) (.0953,2.048) (.1016,2.02) (.1066,2.004) (.1204,2) (.1381,2)} --cycle;
\addplot[bxx=dpeach] coordinates {(.0536,1.624) (.0745,1.624) (.0745,2) (.0536,2)} --cycle;
\addplot[med] coordinates {(.0640,1.624) (.0640,2)};
\addplot[seg] coordinates {(.0232,2) (.0232,1.814)};
\addplot[seg] coordinates {(.1055,2) (.1055,1.814)};
% Fibroblast cells 1
\addplot[fadeL] coordinates {(.0340,.668) (.0464,.668) (.0464,.958) (.0340,.958)} --cycle;
\addplot[fadeR] coordinates {(.1077,.668) (.1190,.668) (.1190,.958) (.1077,.958)} --cycle;
\addplot[area=dotg] coordinates {(.0462,.668) (.1079,.668) (.1079,.958) (.0462,.958)} --cycle;
\addplot[jit] coordinates {
(.0094,.714) (.0267,.708) (.0248,.824) (.0261,.954) (.0280,.824) (.0318,.684) (.0305,.924) (.0336,.764) (.0349,.884)
(.1459,.794) (.1320,.69) (.1315,.848) (.1299,.914) (.1274,.914) (.1255,.684) (.1248,.804) (.1211,.694) (.1217,.944) (.1230,.754)
(.1186,.804) (.1173,.704) (.0325,.86) (.0340,.70) (.0355,.95) (.0345,.80) (.1175,.90) (.1195,.86) (.1205,.76) (.1180,.72)
(.0366,.91) (.0371,.72) (.0377,.83) (.0382,.95) (.0388,.76) (.0393,.87) (.0398,.68) (.0404,.93) (.0409,.80) (.0414,.74)
(.0420,.88) (.0425,.68) (.0430,.95) (.0436,.78) (.0441,.85) (.0446,.71) (.0451,.92) (.0456,.81) (.0459,.75) (.0384,.68)
(.0407,.86) (.0433,.70)
(.1084,.92) (.1089,.74) (.1095,.84) (.1100,.68) (.1106,.95) (.1112,.79) (.1117,.87) (.1123,.71) (.1128,.91) (.1134,.76)
(.1140,.83) (.1145,.68) (.1151,.94) (.1156,.80) (.1161,.73) (.1165,.87) (.1103,.77) (.1131,.85)};
\addplot[spk] coordinates {(.0475,.90) (.0495,.72) (.0515,.86) (.0540,.70) (.0900,.92) (.0930,.74) (.0960,.85) (.0990,.70)
(.1015,.93) (.1040,.79) (.1065,.87)};
\addplot[dens=dteal] coordinates {
(.0091,1) (.0236,1.004) (.0324,1.012) (.0412,1.048) (.05,1.094) (.0575,1.184) (.0638,1.274) (.0689,1.32) (.0739,1.334) (.0789,1.34)
(.0827,1.324) (.0890,1.254) (.0953,1.174) (.1028,1.094) (.1116,1.038) (.1192,1.01) (.1267,1.002) (.1462,1)} --cycle;
\addplot[bxx=dteal] coordinates {(.0656,.624) (.0876,.624) (.0876,1) (.0656,1)} --cycle;
\addplot[med] coordinates {(.0764,.624) (.0764,1)};
\addplot[seg] coordinates {(.0325,1) (.0325,.814)};
\addplot[seg] coordinates {(.1197,1) (.1197,.814)};
\end{axis}
\lab{west}{789}{1356.6}{12.6}{cell\_type}
\keybox{891.8}{919.5}{1345}{1373}{dteal!80!ct}
\lab{west}{931}{1356.6}{12.6}{Fibroblast cells 1}
\keybox{1129.3}{1157.4}{1345}{1373}{dpeach!90!co}
\lab{west}{1167.7}{1356.6}{12.6}{Fibroblast cells 2}
\lab{west}{1281}{1646}{12.6}{p < 0.001}
\lab{center}{1095.8}{1899}{12.8}{AUCells Score}
\lab[rotate=90,text=labg]{center}{794.5}{1531}{12.7}{Fibroblast cells 2}
\lab[rotate=90,text=labg]{center}{793.6}{1781}{12.7}{Fibroblast cells 1}
\lab{center}{737}{1904}{22}{f}
\end{tikzpicture}
\end{document}
